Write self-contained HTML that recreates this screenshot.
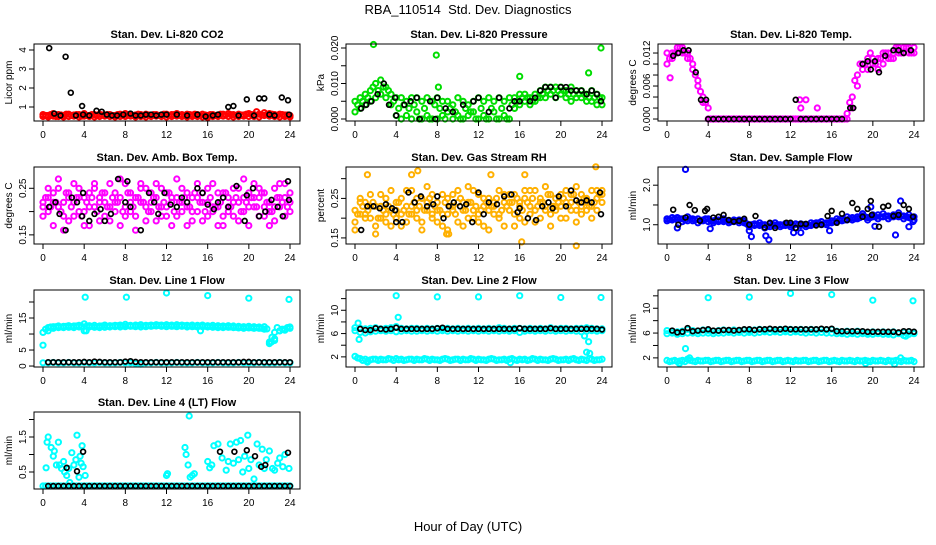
<!DOCTYPE html>
<html><head><meta charset="utf-8">
<style>
body{margin:0;background:#fff;}
svg text{font-family:"Liberation Sans",sans-serif;}
</style></head>
<body>
<svg id="chart" width="936" height="540" xmlns="http://www.w3.org/2000/svg">
<rect width="936" height="540" fill="#fff"/>
<text x="468" y="14" font-size="13" text-anchor="middle">RBA_110514&#160; Std. Dev. Diagnostics</text>
<text x="468" y="531" font-size="13" text-anchor="middle">Hour of Day (UTC)</text>
</svg>
<script>
const HOURS=[0,0.5,1,1.5,2,2.5,3,3.5,4,4.5,5,5.5,6,6.5,7,7.5,8,8.5,9,9.5,10,10.5,11,11.5,12,12.5,13,13.5,14,14.5,15,15.5,16,16.5,17,17.5,18,18.5,19,19.5,20,20.5,21,21.5,22,22.5,23,23.5,24];
const HOURS_Q=[0.25,0.75,1.25,1.75,2.25,2.75,3.25,3.75,4.25,4.75,5.25,5.75,6.25,6.75,7.25,7.75,8.25,8.75,9.25,9.75,10.25,10.75,11.25,11.75,12.25,12.75,13.25,13.75,14.25,14.75,15.25,15.75,16.25,16.75,17.25,17.75,18.25,18.75,19.25,19.75,20.25,20.75,21.25,21.75,22.25,22.75,23.25,23.75];
const XTICKS=[0,4,8,12,16,20,24];
// P1 CO2
const co2A=[0.6,0.55,0.65,0.6,0.55,0.62,0.58,0.6,0.65,0.55,0.6,0.62,0.58,0.6,0.55,0.62,0.65,0.6,0.58,0.6,0.62,0.55,0.6,0.58,0.62,0.6,0.65,0.6,0.62,0.58,0.6,0.62,0.55,0.6,0.58,0.62,0.65,0.6,0.62,0.58,0.65,0.6,0.62,0.7,0.65,0.6,0.62,0.58,0.55];
const co2B=[0.5,0.48,0.52,0.5,0.48,0.5,0.52,0.48,0.52,0.5,0.48,0.5,0.52,0.5,0.48,0.5,0.5,0.52,0.48,0.5,0.48,0.5,0.52,0.5,0.48,0.5,0.52,0.5,0.48,0.5,0.5,0.48,0.45,0.5,0.5,0.52,0.5,0.48,0.5,0.52,0.5,0.5,0.48,0.55,0.52,0.5,0.48,0.5,0.48];
const co2C=[0.55,0.6,0.5,0.58,0.62,0.55,0.6,0.52,0.55,0.6,0.55,0.58,0.6,0.55,0.6,0.55,0.58,0.55,0.62,0.55,0.58,0.6,0.55,0.62,0.55,0.6,0.58,0.55,0.6,0.62,0.55,0.58,0.6,0.55,0.62,0.58,0.6,0.55,0.58,0.62,0.6,0.75,0.58,0.6,0.62,0.55,0.6,0.58];
const co2BlkX=[0.6,1.1,1.7,2.2,2.7,3.2,3.8,3.9,4.5,5.2,5.7,6.2,6.7,7.2,7.8,8.5,9,9.5,10,10.5,11,11.5,12,13,14,15,15.8,16.5,17,18,18.5,19,19.8,20.5,21,21.5,22,22.5,23.2,23.8,23.9];
const co2BlkY=[4.1,0.65,0.55,3.65,1.75,0.55,1.05,0.6,0.55,0.8,0.75,0.6,0.55,0.55,0.6,0.65,0.55,0.55,0.6,0.6,0.55,0.6,0.6,0.6,0.55,0.6,0.5,0.55,0.6,1.0,1.05,0.55,1.4,0.55,1.45,1.45,0.6,0.55,1.5,1.35,0.6];
// P2 pressure
const presA=[.005,.006,.007,.008,.010,.011,.009,.007,.006,.006,.005,.006,.006,.005,.006,.005,.006,.005,.005,.004,.006,.005,.004,.005,.006,.005,.006,.005,.006,.005,.006,.006,.007,.007,.006,.007,.008,.009,.009,.009,.009,.008,.009,.008,.008,.007,.008,.007,.006];
const presB=[.002,.003,.004,.005,.006,.007,.006,.004,.001,.000,.001,.000,.002,.000,.001,.000,.000,.001,.002,.000,.001,.000,.001,.002,.000,.001,.000,.002,.000,.001,.000,.003,.004,.005,.004,.005,.006,.006,.007,.006,.007,.006,.005,.006,.006,.005,.005,.004,.004];
const presC=[.004,.005,.006,.009,.008,.009,.008,.005,.003,.004,.003,.004,.000,.003,.000,.004,.003,.000,.003,.002,.000,.003,.002,.000,.003,.000,.003,.000,.003,.000,.004,.005,.006,.006,.005,.006,.007,.008,.008,.008,.008,.007,.007,.007,.007,.006,.006,.006];
const presOutX=[1.8,7.9,8.1,16,22.7,23.9];
const presOutY=[.021,.018,.009,.012,.013,.020];
const presBlkX=[0.6,1.1,1.6,2.2,2.8,3.3,3.9,4,4.8,5.4,6,6.3,7.3,7.8,8,8.8,9.5,10.5,11.5,12,13,14,15,15.5,16,17,17.5,18,18.5,19,19.5,20,20.5,21,21.5,22,22.5,23,23.5,23.9];
const presBlkY=[.003,.004,.005,.007,.010,.004,.006,.001,.004,.005,.006,.000,.005,.000,.006,.003,.002,.004,.005,.006,.002,.006,.003,.005,.005,.005,.006,.008,.009,.009,.006,.009,.009,.008,.008,.008,.007,.008,.007,.005];
// P3 Li temp
const ltA=[.012,.012,.013,.013,.012,.010,.007,.004,0,0,0,0,0,0,0,0,0,0,0,0,0,0,0,0,0,0,0,0,0,0,0,0,0,0,0,0,.004,.008,.010,.011,.011,.011,.012,.012,.012,.013,.013,.013,.013];
const ltB=[.010,.011,.012,.012,.011,.009,.006,.003,.002,0,0,0,0,0,0,0,0,0,0,0,0,0,0,0,0,0,0,0,0,0,0,0,0,0,0,.001,.002,.006,.009,.009,.010,.009,.010,.011,.011,.012,.012,.012,.012];
const ltC=[.011,.012,.013,.012,.011,.008,.005,.003,0,0,0,0,0,0,0,0,0,0,0,0,0,0,0,0,0,0,0,0,0,0,0,0,0,0,0,.003,.007,.010,.010,.012,.010,.011,.012,.011,.013,.012,.013,.012];
const ltOutX=[0.3,12.9,13.0,13.5,14.6];
const ltOutY=[.0075,.0035,.002,.0035,.002];
const ltBlkX=[0.6,1.1,1.6,2.1,2.8,3.3,3.8,4,4.5,5,5.5,6,6.5,7,7.5,8,8.5,9,9.5,10,10.5,11,11.5,12,12.5,13,13.5,14,14.5,15,15.5,16,16.5,17,17.8,18.1,19,19.5,19.8,20.2,20.6,21.2,22,22.5,23,23.7];
const ltBlkY=[.0115,.012,.0125,.0125,.0085,.0035,.0035,0,0,0,0,0,0,0,0,0,0,0,0,0,0,0,0,0,.0035,0,0,0,0,0,0,0,0,0,.002,.002,.01,.0105,.009,.0105,.0085,.0115,.0125,.0125,.012,.0125];
// P4 amb temp
const ambA=[.22,.20,.24,.21,.19,.23,.22,.25,.20,.24,.21,.18,.22,.26,.20,.23,.21,.24,.19,.22,.25,.20,.23,.21,.24,.22,.19,.25,.21,.23,.20,.24,.22,.26,.21,.19,.23,.22,.25,.20,.24,.21,.23,.19,.22,.25,.21,.23,.22];
const ambB=[.19,.23,.17,.25,.22,.18,.26,.20,.23,.17,.25,.22,.19,.21,.24,.17,.26,.20,.23,.25,.18,.22,.26,.19,.21,.17,.23,.20,.24,.18,.26,.22,.19,.21,.24,.17,.20,.25,.18,.23,.21,.26,.19,.24,.17,.21,.23,.26,.20];
const ambC=[.21,.25,.22,.27,.16,.24,.19,.23,.17,.21,.26,.23,.24,.18,.22,.27,.19,.22,.16,.26,.21,.24,.18,.25,.19,.23,.27,.22,.17,.20,.23,.18,.25,.20,.17,.24,.21,.19,.22,.27,.17,.23,.25,.21,.20,.18,.26,.19,.24];
const ambD=[.23,.21,.22,.20,.24,.21,.23,.19,.22,.23,.20,.24,.21,.23,.22,.20,.24,.21,.23,.22,.20,.23,.21,.22,.24,.20,.22,.23,.21,.24,.22,.20,.23,.21,.22,.24,.21,.23,.20,.22,.23,.21,.24,.22,.20,.23,.22,.21];
const ambBlkX=[0.6,1.2,1.6,2.2,2.8,3.3,3.8,3.9,4.5,5,5.6,6,6.6,7.3,8,8.2,8.5,9.5,10.3,10.8,11.2,11.8,12.4,13,13.5,14,15,15.5,16,16.6,17,17.5,18,18.8,19.6,19.8,20.4,21,21.6,22.2,22.8,23.3,23.8,23.9];
const ambBlkY=[.21,.22,.195,.16,.23,.22,.19,.24,.18,.195,.205,.18,.195,.27,.22,.265,.21,.16,.24,.22,.195,.24,.215,.21,.23,.22,.25,.24,.215,.205,.22,.23,.21,.255,.18,.235,.25,.19,.20,.225,.21,.19,.265,.225];
// P5 RH
const rhA=[.22,.24,.21,.26,.23,.20,.25,.22,.24,.21,.27,.23,.20,.25,.22,.26,.24,.21,.25,.23,.27,.22,.24,.20,.26,.23,.25,.21,.27,.24,.22,.26,.23,.25,.21,.27,.24,.22,.26,.25,.23,.27,.24,.22,.26,.25,.23,.27,.24];
const rhB=[.19,.21,.24,.20,.18,.23,.19,.27,.20,.18,.23,.21,.25,.19,.28,.20,.22,.18,.21,.26,.19,.24,.20,.27,.21,.18,.22,.24,.20,.18,.26,.21,.24,.19,.27,.22,.20,.28,.21,.23,.26,.20,.22,.28,.21,.24,.27,.22,.26];
const rhC=[.17,.25,.20,.23,.16,.26,.21,.18,.22,.25,.19,.27,.22,.17,.24,.21,.19,.26,.17,.22,.24,.18,.28,.22,.19,.25,.17,.23,.21,.26,.24,.18,.20,.27,.23,.19,.25,.23,.18,.22,.20,.24,.26,.19,.23,.22,.20,.25,.27];
const rhD=[.21,.23,.22,.24,.20,.22,.23,.21,.24,.22,.21,.24,.23,.22,.25,.23,.22,.24,.23,.21,.25,.22,.24,.23,.22,.24,.23,.25,.22,.23,.24,.25,.22,.24,.25,.23,.24,.26,.23,.24,.25,.23,.26,.24,.25,.23,.24,.26];
const rhOutX=[1.2,5.5,6.1,8.9,9.1,13.2,16.2,16.5,21.5,23.4];
const rhOutY=[.31,.31,.32,.16,.16,.31,.14,.31,.13,.33];
const rhBlkX=[0.6,1.2,1.8,2.4,3,3.6,3.9,4,4.6,5.2,5.8,6.4,7,7.6,8,8.6,9.1,9.6,10.2,10.8,11.4,12,12.5,13,13.8,14.5,15.2,15.8,16,16.8,17.6,18.2,18.8,19.2,19.8,20.5,21,21.5,22,22.5,23,23.8,23.9];
const rhBlkY=[.17,.23,.23,.225,.235,.225,.22,.19,.19,.265,.24,.255,.23,.235,.255,.20,.23,.24,.23,.235,.19,.265,.21,.24,.235,.255,.26,.215,.225,.2,.195,.23,.24,.225,.255,.23,.27,.245,.24,.245,.24,.265,.21];
// P6 sample flow
const flowA=[1.15,1.18,1.12,1.15,1.2,1.1,1.15,1.12,1.08,1.1,1.12,1.15,1.1,1.08,1.12,1.05,1.0,1.02,0.98,1.0,1.02,0.98,1.0,1.03,1.0,1.02,0.98,1.0,1.05,1.02,1.0,1.05,1.1,1.08,1.15,1.12,1.18,1.2,1.22,1.18,1.2,1.25,1.2,1.22,1.25,1.2,1.22,1.25,1.2];
const flowB=[1.1,1.12,1.18,1.08,1.1,1.15,1.05,1.1,1.15,1.05,1.08,1.08,1.05,1.12,1.05,1.1,0.95,0.98,1.05,0.92,0.95,1.05,0.95,0.98,0.95,0.92,1.02,0.95,0.98,1.05,1.08,1.0,1.05,1.15,1.1,1.2,1.12,1.15,1.28,1.12,1.25,1.15,1.28,1.15,1.2,1.3,1.15,1.18,1.12];
const flowC=[1.13,1.15,1.15,1.12,1.15,1.12,1.1,1.15,1.1,1.12,1.1,1.1,1.08,1.1,1.08,1.02,1.0,1.0,1.0,0.96,1.0,1.0,0.98,1.0,0.98,1.0,1.0,0.98,1.02,1.05,1.02,1.05,1.08,1.12,1.12,1.15,1.15,1.18,1.2,1.18,1.2,1.2,1.22,1.2,1.22,1.22,1.2,1.18];
const flowOutX=[1.8,1.0,4.2,8,8.2,9.6,9.9,12.3,13,15.8,19.8,20.2,22.7,22.2,23.5,23.9];
const flowOutY=[2.4,0.92,0.9,0.85,0.7,0.72,0.62,0.8,0.8,0.85,1.45,0.96,1.6,0.74,0.95,1.08];
const flowBlkX=[0.6,1.1,1.8,2.2,2.7,3.2,3.7,3.9,4.5,5,5.5,6,6.5,7,7.5,8,8.6,9.5,10,10.5,11.6,12,12.5,13,13.5,14.5,15,15.6,16,16.5,17,17.5,18,18.5,19,19.5,19.8,19.9,20.6,21,21.5,22,22.5,23,23.5,23.9];
const flowBlkY=[1.38,1.0,1.18,1.5,1.37,1.1,1.35,1.4,1.18,1.2,1.25,1.12,1.08,1.1,1.15,1.0,1.22,0.93,1.05,0.92,1.05,1.05,0.92,1.02,1.02,0.98,1.0,1.22,1.35,1.05,1.28,1.12,1.55,1.4,1.2,1.4,1.6,1.25,0.95,1.45,1.48,1.22,1.25,1.5,1.4,1.2];
// P7 line1
const l1A=[6.5,12,12.3,12.5,12.4,12.6,12.5,12.7,13.2,12.6,12.7,12.5,12.8,12.6,12.7,12.8,13,12.7,12.8,12.9,12.7,12.8,12.9,12.8,12.9,12.8,12.9,12.8,12.7,12.8,12.7,12.8,12.6,12.7,12.6,12.5,12.6,12.5,12.4,12.3,12.4,12.3,12.2,12.3,7,10.5,11,11.5,12.2];
const l1B=[10.5,11,11.8,12,12,12.1,12,12.2,11,12.2,12.1,12,12.1,12.2,12.3,12.2,12.3,12.4,12.3,12.2,12.3,12.4,12.5,12.4,12.3,12.4,12.3,12.4,12.2,12.3,12.2,12.3,12.2,12.1,12,12,12.1,12,11.9,11.8,11.9,11.8,11.8,11.5,7.5,8.5,11,11.2,11.8];
const l1C=[11.5,12.2,12.3,12.2,12.4,12.3,12.5,12.4,12.5,12.4,12.3,12.5,12.4,12.5,12.6,12.5,12.6,12.5,12.6,12.5,12.6,12.6,12.7,12.6,12.6,12.5,12.6,12.6,12.5,12.4,12.5,12.4,12.4,12.3,12.3,12.3,12.2,12.1,12.1,12.1,12,12,11.8,11.6,9,12,11.5,12];
const l1Low=[1.0,1.0,1.1,1.0,1.0,1.1,1.0,1.0,1.1,1.0,1.0,1.1,1.0,1.0,1.0,1.1,1.0,1.0,0.8,0.6,1.0,1.0,1.1,1.0,1.0,1.0,1.1,1.0,1.0,1.0,1.1,1.0,1.0,1.0,1.1,1.0,1.0,1.0,1.1,1.0,1.0,1.0,1.1,1.0,1.0,1.0,1.1,1.0,1.0];
const l1OutX=[4.1,8.1,12,16,20,23.9,4.2,15.3,22.2,22.5];
const l1OutY=[21.5,21.5,22.8,22,21.2,20.8,11,11,7.5,8];
const l1Blk=[null,1.2,1.2,1.2,1.2,1.2,1.2,1.2,1.3,1.2,1.4,1.3,1.2,1.2,1.2,1.2,1.4,1.5,1.3,1.2,1.2,1.2,1.2,1.2,1.2,1.2,1.2,1.2,1.2,1.2,1.2,1.2,1.2,1.2,1.2,1.2,1.2,1.2,1.2,1.3,1.3,1.2,1.2,1.2,1.2,1.2,1.2,1.2,1.2];
// P8 line2
const l2A=[7.0,6.9,6.8,6.9,7.0,6.8,6.9,7.0,7.2,6.9,6.8,6.9,6.9,6.8,6.9,6.8,6.9,6.8,6.9,6.8,6.9,6.8,6.9,6.8,6.9,6.8,6.9,6.8,7.0,6.9,6.8,6.9,6.9,6.8,6.9,6.8,6.9,6.8,7.0,6.8,6.9,6.9,6.8,6.9,6.9,7.0,6.9,6.8,6.8];
const l2B=[6.5,6.2,6.1,6.3,6.4,6.5,6.4,6.5,6.3,6.4,6.5,6.4,6.4,6.5,6.4,6.5,6.4,6.5,6.4,6.5,6.4,6.5,6.4,6.5,6.4,6.5,6.4,6.5,6.4,6.5,6.4,6.5,6.2,6.4,6.5,6.4,6.5,6.4,6.5,6.4,6.5,6.4,6.5,6.4,6.3,6.4,6.5,6.4,6.5];
const l2Low=[2.1,1.7,1.6,1.5,1.6,1.6,1.5,1.6,1.7,1.6,1.5,1.6,1.6,1.5,1.6,1.6,1.5,1.6,1.6,1.5,1.6,1.6,1.5,1.6,1.6,1.5,1.6,1.6,1.5,1.6,1.6,1.5,1.6,1.6,1.5,1.6,1.6,1.5,1.6,1.6,1.5,1.6,1.6,1.5,1.6,1.4,1.6,1.5,1.6];
const l2LowB=[1.8,1.4,1.3,1.6,1.4,1.5,1.7,1.4,1.5,1.4,1.6,1.4,1.5,1.7,1.4,1.5,1.4,1.7,1.4,1.6,1.4,1.5,1.7,1.4,1.5,1.4,1.7,1.4,1.5,1.4,1.7,1.4,1.5,1.4,1.7,1.4,1.5,1.4,1.7,1.4,1.5,1.4,1.7,1.4,1.5,1.7,1.4,1.5];
const l2OutX=[0.3,0.4,4,4.2,8,12,16,20,23.9,22.5,22.7,22.8,22.3,15.1,1.2];
const l2OutY=[7.8,5.0,12.5,8.8,12.3,12.3,12.5,12.2,12.2,2.8,4.6,2.6,5.6,1.0,1.1];
const l2Blk=[null,6.8,6.6,6.6,6.9,6.8,6.7,6.8,7.0,6.8,6.8,6.8,6.8,6.8,6.8,6.8,6.9,7.0,6.8,6.8,6.8,6.8,6.8,6.8,6.8,6.8,6.8,6.8,6.8,6.8,6.8,6.8,6.9,6.8,6.8,6.8,6.8,6.8,6.9,6.8,6.8,6.8,6.8,6.8,6.8,6.8,6.8,6.8,6.7];
// P9 line3
const l3A=[6.4,6.3,6.2,6.3,6.6,6.4,6.3,6.5,6.4,6.3,6.4,6.5,6.4,6.5,6.4,6.5,6.4,6.5,6.6,6.5,6.6,6.5,6.6,6.5,6.6,6.5,6.6,6.5,6.6,6.5,6.6,6.5,6.6,6.3,6.2,6.3,6.2,6.3,6.2,6.1,6.2,6.1,6.2,6.1,6.2,6.0,6.1,6.2,6.1];
const l3B=[5.9,6.0,5.8,5.9,6.0,6.0,5.9,6.0,6.0,5.9,6.0,6.0,6.1,6.0,6.1,6.0,6.1,6.0,6.1,6.2,6.1,6.2,6.1,6.2,6.1,6.2,6.1,6.0,6.1,6.0,6.1,6.0,6.0,5.9,5.9,5.8,5.9,5.8,5.9,5.8,5.8,5.9,5.8,5.8,5.7,5.9,5.6,5.8,5.9];
const l3Low=[1.6,1.5,1.4,1.6,1.8,1.5,1.6,1.5,1.6,1.5,1.6,1.5,1.6,1.5,1.6,1.5,1.6,1.5,1.6,1.5,1.6,1.5,1.6,1.5,1.5,1.6,1.5,1.6,1.5,1.6,1.5,1.6,1.5,1.5,1.6,1.5,1.5,1.6,1.5,1.5,1.6,1.5,1.5,1.6,1.5,1.5,1.6,1.5,1.4];
const l3LowB=[1.4,1.6,1.5,1.4,1.6,1.4,1.5,1.6,1.4,1.6,1.4,1.6,1.4,1.6,1.4,1.6,1.4,1.6,1.4,1.6,1.4,1.6,1.4,1.6,1.4,1.5,1.6,1.4,1.6,1.4,1.6,1.4,1.6,1.4,1.5,1.6,1.4,1.5,1.6,1.4,1.5,1.6,1.4,1.5,1.6,1.4,1.5,1.6];
const l3OutX=[4,8,12,16,20,23.9,1.8,2.2,22.7,23.2,1.2,19.3,22.1];
const l3OutY=[11.7,11.8,12.4,12.2,11.3,11.2,3.5,2.0,2.0,5.5,1.1,1.1,1.0];
const l3Blk=[null,6.4,6.1,6.2,6.8,6.3,6.4,6.5,6.6,6.4,6.4,6.5,6.5,6.4,6.5,6.6,6.6,6.5,6.6,6.6,6.7,6.6,6.6,6.7,6.6,6.6,6.6,6.6,6.6,6.6,6.7,6.6,6.7,6.3,6.3,6.3,6.3,6.3,6.3,6.2,6.2,6.2,6.2,6.2,6.2,6.1,6.3,6.3,6.2];
// P10 line4
const l4Base=[0.1,0.1,0.1,0.1,0.1,0.1,0.1,0.1,0.1,0.1,0.1,0.1,0.1,0.1,0.1,0.1,0.1,0.1,0.1,0.1,0.1,0.1,0.1,0.1,0.1,0.1,0.1,0.1,0.1,0.1,0.1,0.1,0.1,0.1,0.1,0.1,0.1,0.1,0.1,0.1,0.1,0.1,0.1,0.1,0.1,0.1,0.1,0.1,0.1];
const l4BaseQ=[0.1,0.1,0.1,0.1,0.1,0.1,0.1,0.1,0.1,0.1,0.1,0.1,0.1,0.1,0.1,0.1,0.1,0.1,0.1,0.1,0.1,0.1,0.1,0.1,0.1,0.1,0.1,0.1,0.1,0.1,0.1,0.1,0.1,0.1,0.1,0.1,0.1,0.1,0.1,0.1,0.1,0.1,0.1,0.1,0.1,0.1,0.1,0.1];
const l4ScX=[0.3,0.4,0.5,0.8,1,1.1,1.3,1.5,1.6,1.8,2,2.1,2.3,2.5,2.6,2.8,3,3.2,3.3,3.5,3.6,3.7,3.8,3.9,4.1,13.8,13.9,14.1,14.3,14.5,14.7,12,12.1,16,16.2,16.4,16.6,17,17.4,17.8,18,18.2,18.5,18.8,19,19.2,19.4,19.6,19.9,20,20.2,20.5,20.8,21,21.3,21.5,21.7,22,22.3,22.5,22.8,23,23.3,23.5,23.9,14.2];
const l4ScY=[0.62,1.35,1.5,1.2,0.95,1.1,0.7,1.35,0.7,0.6,0.8,0.5,0.4,0.6,0.2,1.05,0.7,0.85,1.55,0.35,0.95,0.75,1.25,0.65,0.4,1.2,1.0,0.7,0.35,0.4,0.45,0.4,0.45,0.8,0.62,0.7,1.25,1.3,0.9,0.55,0.8,1.3,0.75,1.35,0.85,1.4,0.5,0.95,1.55,0.6,0.85,0.3,1.3,0.7,1.15,0.6,0.85,1.1,0.6,0.55,0.75,0.9,0.65,1.0,0.6,2.1];
const l4BlkX=[2.3,3.3,3.9,17.2,18.6,19.8,20.6,21.2,21.6,23.8];
const l4BlkY=[0.62,0.52,1.08,1.08,1.08,1.12,0.95,0.65,0.7,1.05];
const l4Blk=[null,0.1,0.1,0.1,0.1,0.1,0.1,0.1,0.1,0.1,0.1,0.1,0.1,0.1,0.1,0.1,0.1,0.1,0.1,0.1,0.1,0.1,0.1,0.1,0.1,0.1,0.1,0.1,0.1,0.1,0.1,0.1,0.1,0.1,0.1,0.1,0.1,0.1,0.1,0.1,0.1,0.1,0.1,0.1,0.1,0.1,0.1,0.1,0.1];

const NS="http://www.w3.org/2000/svg";
const svg=document.getElementById('chart');
function mk(tag,attrs,parent){const e=document.createElementNS(NS,tag);for(const k in attrs)e.setAttribute(k,attrs[k]);(parent||svg).appendChild(e);return e;}

const RED="#ff0000",GRN="#00dd00",MAG="#ff00ff",ORG="#ffb000",BLU="#0000ff",CYN="#00ffff",BLK="#000000";
const panels=[
 {name:'co2',title:'Stan. Dev. Li-820 CO2',yl:'Licor ppm',col:0,row:0,lo:0.263,hi:4.316,ticks:[1,2,3,4],labels:['1','2','3','4'],
  series:[[HOURS,co2A,RED],[HOURS,co2B,RED],[HOURS_Q,co2C,RED],[co2BlkX,co2BlkY,BLK]]},
 {name:'pressure',title:'Stan. Dev. Li-820 Pressure',yl:'kPa',col:1,row:0,lo:-0.00056,hi:0.02113,ticks:[0,.005,.01,.015,.02],labels:['0.000','','0.010','','0.020'],
  series:[[HOURS,presA,GRN],[HOURS,presB,GRN],[HOURS_Q,presC,GRN],[presOutX,presOutY,GRN],[presBlkX,presBlkY,BLK]]},
 {name:'li-temp',title:'Stan. Dev. Li-820 Temp.',yl:'degrees C',col:2,row:0,lo:-0.00036,hi:0.01364,ticks:[0,.002,.004,.006,.008,.01,.012],labels:['0.000','','','0.006','','','0.012'],
  series:[[HOURS,ltA,MAG],[HOURS,ltB,MAG],[HOURS_Q,ltC,MAG],[ltOutX,ltOutY,MAG],[ltBlkX,ltBlkY,BLK]]},
 {name:'amb-temp',title:'Stan. Dev. Amb. Box Temp.',yl:'degrees C',col:0,row:1,lo:0.1304,hi:0.2957,ticks:[.15,.2,.25],labels:['0.15','','0.25'],
  series:[[HOURS,ambA,MAG],[HOURS,ambB,MAG],[HOURS,ambC,MAG],[HOURS_Q,ambD,MAG],[ambBlkX,ambBlkY,BLK]]},
 {name:'rh',title:'Stan. Dev. Gas Stream RH',yl:'percent',col:1,row:1,lo:0.1346,hi:0.3295,ticks:[.15,.2,.25,.3],labels:['0.15','','0.25',''],
  series:[[HOURS,rhA,ORG],[HOURS,rhB,ORG],[HOURS,rhC,ORG],[HOURS_Q,rhD,ORG],[rhOutX,rhOutY,ORG],[rhBlkX,rhBlkY,BLK]]},
 {name:'sample-flow',title:'Stan. Dev. Sample Flow',yl:'ml/min',col:2,row:1,lo:0.513,hi:2.46,ticks:[1,1.5,2],labels:['1.0','','2.0'],
  series:[[HOURS,flowA,BLU],[HOURS,flowB,BLU],[HOURS_Q,flowC,BLU],[flowOutX,flowOutY,BLU],[flowBlkX,flowBlkY,BLK]]},
 {name:'line1',title:'Stan. Dev. Line 1 Flow',yl:'ml/min',col:0,row:2,lo:-0.3,hi:23.75,ticks:[0,5,10,15,20],labels:['0','5','','15',''],
  series:[[HOURS,l1A,CYN],[HOURS,l1B,CYN],[HOURS_Q,l1C,CYN],[HOURS,l1Low,CYN],[l1OutX,l1OutY,CYN],[HOURS,l1Blk,BLK]]},
 {name:'line2',title:'Stan. Dev. Line 2 Flow',yl:'ml/min',col:1,row:2,lo:0.26,hi:13.48,ticks:[2,4,6,8,10,12],labels:['2','','6','','10',''],
  series:[[HOURS,l2A,CYN],[HOURS,l2B,CYN],[HOURS,l2Low,CYN],[HOURS_Q,l2LowB,CYN],[l2OutX,l2OutY,CYN],[HOURS,l2Blk,BLK]]},
 {name:'line3',title:'Stan. Dev. Line 3 Flow',yl:'ml/min',col:2,row:2,lo:0.53,hi:12.94,ticks:[2,4,6,8,10,12],labels:['2','','6','','10',''],
  series:[[HOURS,l3A,CYN],[HOURS,l3B,CYN],[HOURS,l3Low,CYN],[HOURS_Q,l3LowB,CYN],[l3OutX,l3OutY,CYN],[HOURS,l3Blk,BLK]]},
 {name:'line4',title:'Stan. Dev. Line 4 (LT) Flow',yl:'ml/min',col:0,row:3,lo:0.014,hi:2.214,ticks:[0.5,1,1.5,2],labels:['0.5','','1.5',''],
  series:[[HOURS,l4Base,CYN],[HOURS_Q,l4BaseQ,CYN],[l4ScX,l4ScY,CYN],[HOURS,l4Blk,BLK],[l4BlkX,l4BlkY,BLK]]}
];
const colX=[34,346,658], rowY=[44,167,290,412], W=266, H=77;
panels.forEach(p=>{
  const bx=colX[p.col], by=rowY[p.row];
  const g=mk('g',{});
  
  
  const xs=v=>bx+(v+0.875)/(24.97+0.875)*W;
  const ys=v=>by+H-(v-p.lo)/(p.hi-p.lo)*H;
  const t=mk('text',{x:bx+W/2,y:by-6,'font-size':11,'font-weight':'bold','text-anchor':'middle'},g);
  t.textContent=p.title;
  
  
  const yl=mk('text',{x:0,y:0,'font-size':10,'text-anchor':'middle',transform:`translate(${bx-22},${by+H/2}) rotate(-90)`},g);
  yl.textContent=p.yl;
  
  
  const marks=mk('g',{fill:'none'},g);
  
  
  p.series.forEach(s=>{
    const xa=s[0],ya=s[1];
    const n=Math.min(xa.length,ya.length);
    const isBlk=s[2]===BLK;
    for(let i=0;i<n;i++){
      if(ya[i]===null||ya[i]===undefined)continue;
      const c=mk('circle',{cx:xs(xa[i]).toFixed(1),cy:ys(ya[i]).toFixed(1),r:isBlk?2.4:2.6,stroke:s[2],'stroke-width':isBlk?1.7:2},marks);
      
      
    }
  });
  const box=mk('rect',{x:bx,y:by,width:W,height:H,fill:'none',stroke:'#000','stroke-width':1},g);
  
  
  const ax=mk('g',{stroke:'#000','stroke-width':1},g);
  
  
  mk('line',{x1:xs(0),x2:xs(24),y1:by+H,y2:by+H},ax);
  XTICKS.forEach(v=>{
    mk('line',{x1:xs(v),x2:xs(v),y1:by+H,y2:by+H+5},ax);
    const tl=mk('text',{x:xs(v),y:by+H+17,'font-size':10,'text-anchor':'middle',stroke:'none'},ax);
    tl.textContent=v;
    
    
  });
  const ay=mk('g',{stroke:'#000','stroke-width':1},g);
  
  
  p.ticks.forEach((v,i)=>{
    mk('line',{x1:bx-5,x2:bx,y1:ys(v),y2:ys(v)},ay);
    if(p.labels[i]){
      const tl=mk('text',{x:0,y:0,'font-size':10,'text-anchor':'middle',stroke:'none',transform:`translate(${bx-8},${ys(v)}) rotate(-90)`},ay);
      tl.textContent=p.labels[i];
      
      
    }
  });
});
</script>
</body></html>
